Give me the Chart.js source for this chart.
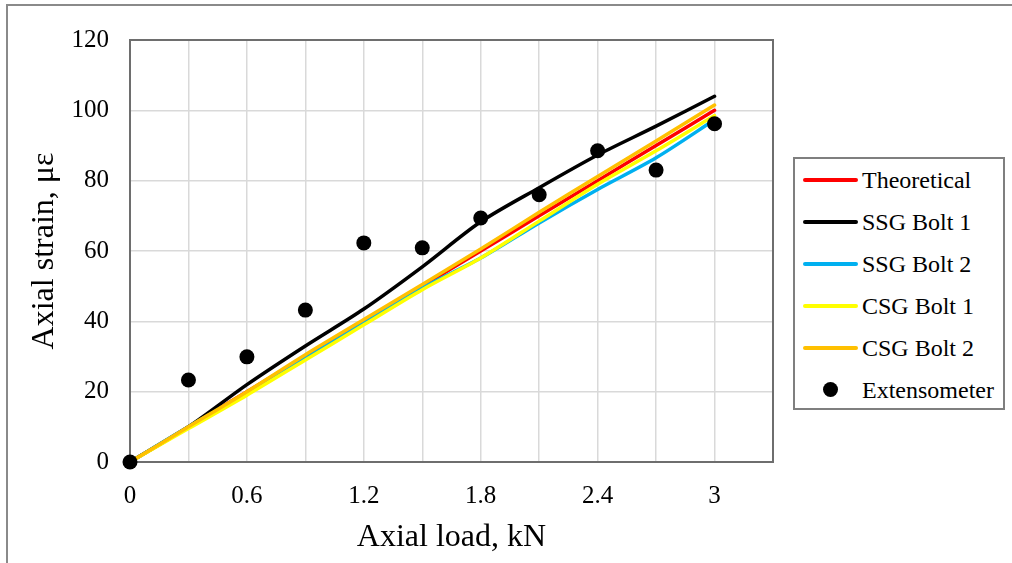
<!DOCTYPE html>
<html>
<head>
<meta charset="utf-8">
<script src="https://cdn.jsdelivr.net/npm/chart.js@4/dist/chart.umd.min.js"></script>
<style>
  html, body { margin: 0; padding: 0; background: #fff; }
  #wrap { position: relative; width: 1012px; height: 563px; overflow: hidden; }
  #frame { position: absolute; left: 6px; top: 4px; width: 1100px; height: 700px;
           border-left: 2px solid #8a8a8a; border-top: 2px solid #8a8a8a; pointer-events: none; }
  #legend { position: absolute; left: 793px; top: 157px; width: 208px; height: 249px;
            border: 2px solid #7f7f7f; background: #fff;
            font-family: "Liberation Serif", "Times New Roman", serif; font-size: 24px; color: #000; }
  .item { position: absolute; left: 0; height: 30px; width: 100%; }
  .swatch { position: absolute; left: 8px; top: 13px; width: 55px; height: 4px; border-radius: 2px; }
  .dot { position: absolute; left: 28px; top: 7px; width: 15px; height: 15px; border-radius: 50%; }
  .txt { position: absolute; left: 67px; top: 0; line-height: 30px; white-space: nowrap; }
</style>
</head>
<body>
<div id="wrap">
  <canvas id="c" width="1012" height="563"></canvas>
  <div id="frame"></div>
  <div id="legend"></div>
</div>
<script>
// Axial load steps (kN)
const loadKN = [0, 0.3, 0.6, 0.9, 1.2, 1.5, 1.8, 2.1, 2.4, 2.7, 3.0];

// Axial strain readings (microstrain)
const theoretical = [0, 10, 20, 30, 40, 50, 60, 70, 80, 90, 100];
const ssgBolt1    = [0, 10, 22, 33, 43.5, 55.5, 68.3, 78, 87.3, 95.5, 104];
const ssgBolt2    = [0, 10, 19.5, 29.5, 39.5, 49.5, 58, 68, 77.5, 86.5, 97.3];
const csgBolt1    = [0, 9.5, 19, 29, 39, 49, 58, 68.5, 79, 88.5, 98.5];
const csgBolt2    = [0, 10, 20, 30.5, 40.5, 50.5, 60.6, 71, 81.2, 91.3, 101.5];
const extensometer = [0, 23.3, 29.9, 43.2, 62.3, 60.9, 69.4, 76, 88.5, 83, 96.2];

// Axis tick labels
const xTickLabels = ['0', '0.6', '1.2', '1.8', '2.4', '3'];
const yTickLabels = ['0', '20', '40', '60', '80', '100', '120'];

const serif = '"Liberation Serif", "Times New Roman", serif';

function pts(ys) { return loadKN.map((x, i) => ({ x: x, y: ys[i] })); }

function lineSet(label, data, color, order) {
  return {
    label: label, data: pts(data), showLine: true, borderColor: color, backgroundColor: color,
    borderWidth: 3.5, pointRadius: 0, pointHoverRadius: 0, tension: 0.3,
    borderCapStyle: 'round', order: order, legendKind: 'line'
  };
}

const datasets = [
  lineSet('Theoretical', theoretical, '#ff0000', 5),
  lineSet('SSG Bolt 1', ssgBolt1, '#000000', 4),
  lineSet('SSG Bolt 2', ssgBolt2, '#00b0f0', 3),
  lineSet('CSG Bolt 1', csgBolt1, '#ffff00', 2),
  lineSet('CSG Bolt 2', csgBolt2, '#ffc000', 1),
  {
    label: 'Extensometer', data: pts(extensometer), showLine: false,
    borderColor: '#000000', backgroundColor: '#000000', pointRadius: 7.5,
    pointBorderWidth: 0, order: 0, clip: false, legendKind: 'dot'
  }
];

// Plot-area frame drawn over the grid, under the data
const plotFrame = {
  id: 'plotFrame',
  beforeDatasetsDraw(chart) {
    const a = chart.chartArea, ctx = chart.ctx;
    ctx.save();
    ctx.strokeStyle = '#6e6e6e';
    ctx.lineWidth = 2;
    ctx.strokeRect(a.left, a.top, a.right - a.left, a.bottom - a.top);
    ctx.restore();
  }
};

const chart = new Chart(document.getElementById('c'), {
  type: 'scatter',
  data: { datasets: datasets },
  options: {
    responsive: false,
    animation: false,
    events: [],
    layout: { padding: { top: 40, right: 239, bottom: 0, left: 6 } },
    plugins: { legend: { display: false }, tooltip: { enabled: false } },
    scales: {
      x: {
        type: 'linear', min: 0, max: 3.3,
        afterFit(s) { s.height = 101; },
        grid: { color: '#d9d9d9', lineWidth: 1.5, drawTicks: false },
        border: { display: false },
        ticks: {
          stepSize: 0.3, padding: 19, color: '#000',
          font: { family: serif, size: 25 },
          autoSkip: false, maxRotation: 0,
          callback: (v, i) => (i % 2 === 0 ? xTickLabels[i / 2] : '')
        },
        title: { display: true, text: 'Axial load, kN', color: '#000',
                 font: { family: serif, size: 32 }, padding: { top: 0, bottom: 6 } }
      },
      y: {
        type: 'linear', min: 0, max: 120,
        afterFit(s) { s.width = 124; },
        grid: { color: '#d9d9d9', lineWidth: 1.5, drawTicks: false },
        border: { display: false },
        ticks: {
          stepSize: 20, padding: 21, color: '#000',
          font: { family: serif, size: 25 },
          callback: (v, i) => yTickLabels[i]
        },
        title: { display: true, text: 'Axial strain, με', color: '#000',
                 font: { family: serif, size: 32 }, padding: { top: 19, bottom: 0 } }
      }
    }
  },
  plugins: [plotFrame]
});

// Legend built from the chart's own datasets
const legend = document.getElementById('legend');
chart.data.datasets.forEach((ds, i) => {
  const item = document.createElement('div');
  item.className = 'item';
  item.style.top = (6 + i * 42) + 'px';
  const mark = document.createElement('div');
  mark.className = ds.legendKind === 'dot' ? 'dot' : 'swatch';
  mark.style.background = ds.borderColor;
  const txt = document.createElement('div');
  txt.className = 'txt';
  txt.textContent = ds.label;
  item.appendChild(mark);
  item.appendChild(txt);
  legend.appendChild(item);
});
</script>
</body>
</html>
